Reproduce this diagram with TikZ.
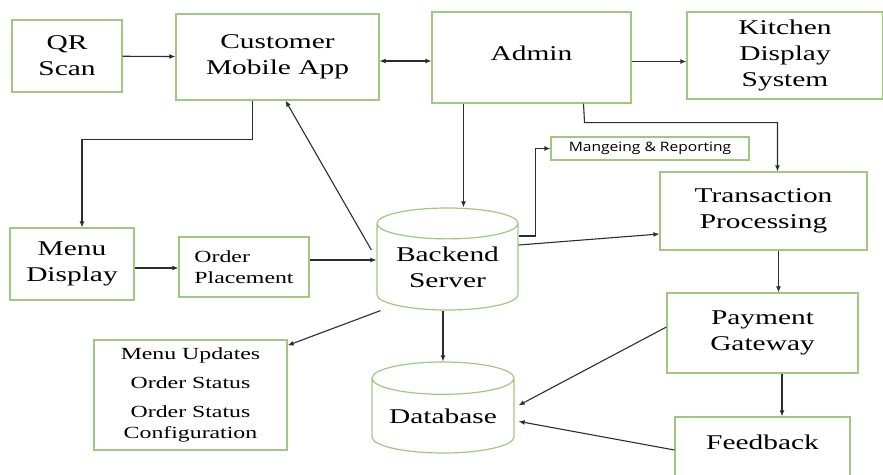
\documentclass[tikz,border=0pt]{standalone}
\usepackage{fontspec}
\setmainfont[FakeStretch=1.4]{Liberation Serif}
\newfontfamily\notefont[FakeStretch=1.2]{Open Sans}
\usetikzlibrary{arrows.meta,shapes.geometric}
\definecolor{boxgreen}{RGB}{160,200,130}
\definecolor{linegray}{RGB}{45,45,45}
\begin{document}
\begin{tikzpicture}[x=1pt,y=-1pt,
  box/.style={draw=boxgreen, line width=1.2pt, rectangle, align=center, inner sep=0pt, font=\fontsize{21}{26}\selectfont},
  smallbox/.style={box, font=\fontsize{17}{21}\selectfont},
  store/.style={draw=boxgreen, line width=1.2pt, cylinder, shape border rotate=90, aspect=0.3, align=center, inner sep=0pt, anchor=shape center, font=\fontsize{21}{26}\selectfont},
  arr/.style={draw=linegray, line width=1.1pt, -{Latex[length=6pt,width=5pt]}},
  arr2/.style={arr, {Latex[length=6pt,width=5pt]}-{Latex[length=6pt,width=5pt]}}]
\clip (0,0) rectangle (883,474);
\node[box, minimum width=110, minimum height=72] (qr) at (67,56){QR\\Scan};
\node[box, minimum width=203, minimum height=86] (app) at (277.5,57){Customer\\Mobile App};
\node[box, minimum width=199, minimum height=91, text depth=9pt] (adm) at (531.5,57.5){Admin};
\node[box, minimum width=196, minimum height=87] (kds) at (785,55.5){Kitchen\\Display\\System};
\node[box, minimum width=124, minimum height=72] (menu) at (72,264){Menu\\Display};
\node[smallbox, minimum width=130, minimum height=60, align=left] (order) at (244,267){Order\\Placement};
\node[box, minimum width=198, minimum height=23, font=\notefont\fontsize{13}{15}\selectfont] (mgr) at (650,148.5){Mangeing \& Reporting};
\node[box, minimum width=207, minimum height=78] (trans) at (763.5,211){Transaction\\Processing};
\node[store, minimum width=141, minimum height=102] (backend) at (447.5,259){Backend\\Server};
\node[store, minimum width=142, minimum height=91] (db) at (443,407.5){Database};
\node[smallbox, minimum width=193, minimum height=110] (upd) at (190.5,395){Menu Updates\\[8pt]Order Status\\[8pt]Order Status\\Configuration};
\node[box, minimum width=191, minimum height=80] (pay) at (762.5,333){Payment\\Gateway};
\node[box, minimum width=175, minimum height=80, text depth=30pt] (feed) at (762.5,457){Feedback};
% top row
\draw[arr] (qr) -- (app);
\draw[arr2] ([yshift=-4pt]app.east) -- ([yshift=-4pt]app.east -| adm.west);
\draw[arr] ([yshift=-4pt]adm.east) -- ([yshift=-4pt]adm.east -| kds.west);
\draw[arr] ([xshift=-25pt]app.south) -- ++(0,39) -| ([xshift=10pt]menu.north);
\draw[arr] ([xshift=-68pt]adm.south) -- ([xshift=-68pt]adm.south |- backend.north);
\draw[arr] ([xshift=52pt]adm.south) -- ++(1,19) -| ([xshift=14pt]trans.north);
% middle
\draw[arr] ([yshift=-4pt]menu.east) -- ([yshift=-4pt]menu.east -| order.west);
\draw[arr] ([yshift=7pt]order.east) -- ([yshift=7pt]order.east -| backend.west);
\draw[arr] ([xshift=-5pt,yshift=17pt]backend.west) -- ([xshift=8pt]app.south);
\draw[arr] ([yshift=31pt]backend.east) -- ++(17,0) |- (mgr.west);
\draw[arr] ([yshift=22pt]backend.east) -- ([yshift=-23pt]trans.west);
\draw[arr] ([xshift=-67pt]backend.south) -- ([yshift=-6pt]upd.north east);
\draw[arr] ([xshift=-4.5pt]backend.south) -- (db.north);
% right column
\draw[arr] ([xshift=15pt]trans.south) -- ([xshift=15pt]trans.south |- pay.north);
\draw[arr] ([xshift=19.5pt]pay.south) -- ([xshift=19.5pt]pay.south |- feed.north);
\draw[arr] ([yshift=6pt]pay.west) -- ([xshift=4pt,yshift=10.5pt]db.east);
\draw[arr] ([yshift=7pt]feed.west) -- ([xshift=4pt,yshift=-5.5pt]db.east);
\end{tikzpicture}
\end{document}
